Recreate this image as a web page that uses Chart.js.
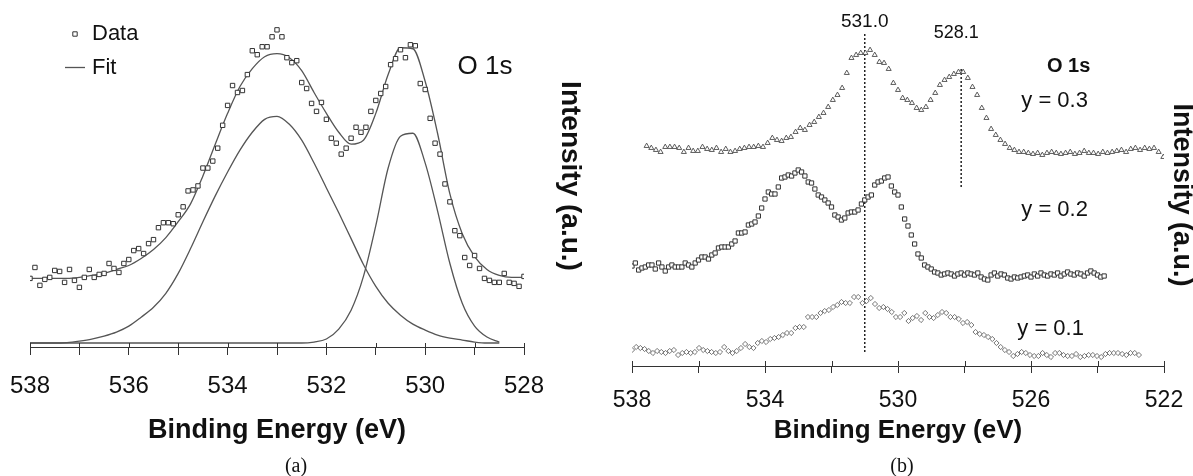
<!DOCTYPE html>
<html>
<head>
<meta charset="utf-8">
<title>O 1s XPS spectra</title>
<script src="https://cdn.jsdelivr.net/npm/chart.js@4.4.1/dist/chart.umd.min.js"></script>
<style>
  html, body { margin: 0; padding: 0; background: #fff; }
  body { position: relative; width: 1193px; height: 476px; overflow: hidden; }
  .panel { position: absolute; top: 0; height: 476px; }
  #pa { left: 0; width: 600px; }
  #pb { left: 600px; width: 600px; }
  .cap { position: absolute; top: 454px; line-height: 24px; font: 20px "Liberation Serif", "Times New Roman", serif;
         color: #111; transform: translateX(-50%); }
</style>
</head>
<body>
<div class="panel" id="pa"><canvas id="ca" width="600" height="476"></canvas></div>
<div class="panel" id="pb"><canvas id="cb" width="600" height="476"></canvas></div>
<div class="cap" style="left:296px">(a)</div>
<div class="cap" style="left:902px">(b)</div>
<script>
// ---------- (a) O 1s spectrum with two-component fit ----------
const dataStartA = 538.0;          // eV, first measured point
const dataStepA = 0.1;             // eV between points
const dataA = [
  65, 76, 58, 64, 66, 73, 72, 61, 74, 63,
  56, 66, 74, 66, 69, 70, 80, 75, 71, 80,
  84, 93, 95, 90, 100, 104, 116, 121, 121, 120,
  129, 137, 153, 154, 158, 176, 176, 183, 196, 219,
  239, 259, 252, 254, 270, 294, 290, 298, 298, 308,
  315, 308, 287, 282, 284, 262, 256, 241, 233, 242,
  225, 206, 201, 190, 196, 206, 217, 212, 217, 233,
  244, 251, 258, 280, 286, 295, 287, 300, 299, 261,
  255, 226, 201, 190, 160, 142, 113, 108, 86, 78,
  88, 75, 65, 63, 61, 61, 70, 61, 60, 57,
  67
];

const fitEnergy = [538, 537.75, 537.5, 537.25, 537, 536.75, 536.5, 536.25, 536, 535.75,
  535.5, 535.25, 535, 534.75, 534.5, 534.25, 534, 533.75, 533.5, 533.25,
  533, 532.75, 532.5, 532.25, 532, 531.75, 531.5, 531.25, 531, 530.75,
  530.5, 530.25, 530, 529.75, 529.5, 529.25, 529, 528.75, 528.5, 528.25, 528];
const fitTotal = [65, 65, 65, 65, 66, 68, 70, 74, 78, 85,
  94, 106, 122, 140, 168, 200, 231, 258, 276, 288,
  291, 287, 274, 252, 231, 212, 200, 204, 231, 270,
  297, 296, 263, 211, 150, 110, 87, 74, 68, 66, 66];

const compEnergy = [538, 537.75, 537.5, 537.25, 537, 536.75, 536.5, 536.25, 536, 535.75,
  535.5, 535.25, 535, 534.75, 534.5, 534.25, 534, 533.75, 533.5, 533.25,
  533, 532.75, 532.5, 532.25, 532, 531.75, 531.5, 531.25, 531, 530.75,
  530.5, 530.25, 530, 529.75, 529.5, 529.25, 529, 528.75, 528.5];
const compHigh = [0, 0, 0, 0.5, 2, 4, 7, 11, 17, 26,
  36, 50, 70, 95, 122, 148, 172, 194, 212, 225,
  228, 220, 204, 181, 156, 131, 105, 79, 57, 40,
  28, 19, 13, 8, 5, 3, 1, 0, 0];
const compLow = [0, 0, 0, 0, 0, 0, 0, 0, 0, 0,
  0, 0, 0, 0, 0, 0, 0, 0, 0, 0,
  0, 0, 0, 1, 4, 14, 33, 67, 118, 176,
  208, 211, 181, 133, 80, 40, 17, 6, 1];

const ticksA = [538, 536, 534, 532, 530, 528];

// ---------- (b) O 1s spectra for y = 0.3, 0.2, 0.1 ----------
const scanY3Start = 537.56, scanY3Step = 0.14;
const scanY3 = [
  220, 218, 216, 214, 219, 219, 219, 218, 214, 218,
  215, 215, 219, 217, 216, 218, 214, 217, 214, 215,
  217, 218, 219, 219, 220, 219, 223, 228, 226, 225,
  228, 229, 234, 238, 236, 241, 244, 249, 253, 259,
  266, 271, 278, 293, 308, 311, 313, 313, 316, 311,
  304, 303, 297, 283, 276, 268, 266, 263, 258, 256,
  259, 266, 273, 281, 286, 289, 292, 294, 294, 288,
  279, 271, 258, 248, 237, 231, 226, 222, 218, 216,
  214, 214, 213, 212, 213, 211, 213, 214, 213, 212,
  213, 214, 212, 213, 215, 213, 213, 212, 214, 213,
  214, 215, 216, 214, 217, 218, 216, 218, 217, 218,
  214, 209
];

const scanY2Start = 538.0, scanY2Step = 0.1;
const scanY2 = [
  100, 103, 96, 98, 99, 101, 101, 97, 103, 99,
  95, 99, 101, 99, 99, 99, 103, 101, 99, 103,
  106, 109, 109, 107, 111, 113, 118, 119, 119, 119,
  122, 125, 133, 133, 134, 141, 142, 144, 150, 158,
  167, 174, 172, 172, 179, 188,
  189, 191, 190, 193, 196, 194, 190, 184, 183, 177,
  171, 169, 166, 163, 159, 151, 149, 146, 148, 153,
  154, 154, 156, 162, 166, 169, 171, 181, 184, 185,
  188, 189, 180, 174, 171, 159, 147, 140, 131, 122,
  112, 108, 101, 99, 97, 94, 93, 91, 92, 93,
  92, 90, 92, 93, 91, 93, 92, 91, 93, 89,
  87, 86,
  91, 93, 90, 92, 91, 88, 87, 89, 88, 89,
  90, 91, 89, 92, 90, 93, 91, 90, 92, 91,
  93, 90, 92, 94, 92, 91, 93, 92, 90, 93,
  95, 93, 91, 89, 90
];

const scanY1Start = 538.0, scanY1Step = 0.126;
const scanY1 = [
  16, 19, 18, 17, 15, 13, 15, 14, 13, 15,
  16, 11, 13, 14, 13, 14, 18, 16, 15, 14,
  13, 14, 19, 15, 13, 15, 18, 22, 19, 18,
  23, 25, 24, 27, 28, 29, 31, 33, 33, 38,
  39, 39, 49, 49, 49, 53, 55, 56, 59, 61,
  64, 63, 63, 69, 69, 63, 65, 68, 62, 58,
  59, 57, 54, 49, 49, 53, 45, 48, 50, 46,
  53, 49, 48, 51, 54, 53, 49, 49, 47, 43,
  44, 41, 34, 32, 31, 29, 27, 23, 19, 16,
  14, 10, 12, 14, 13, 11, 10, 10, 13, 11,
  9, 13, 13, 11, 10, 10, 12, 9, 10, 11,
  11, 10, 9, 12, 13, 13, 13, 12, 11, 13,
  13, 11
];

// reference energies marked with dotted lines
const markEnergy = [531.0, 528.1];
const markFrom = [14, 179];
const markTo = [333, 298];

const SANS = '"Liberation Sans", Arial, Helvetica, sans-serif';
const INK = '#111';

function grid(start, step, values) {
  return values.map((v, i) => ({ x: +(start - i * step).toFixed(3), y: v }));
}
function pairs(xs, ys) {
  return xs.map((x, i) => ({ x: x, y: ys[i] }));
}
// fixed axis band; edge labels may overhang the plot area
function fixedBand(h) {
  return s => { s.height = h; s.paddingLeft = 0; s.paddingRight = 0; };
}

// tick marks that cross the axis line (short stub above the line)
const crossTicks = {
  id: 'crossTicks',
  afterDatasetsDraw(chart, args, opts) {
    const s = chart.scales.x, ctx = chart.ctx;
    ctx.save();
    ctx.strokeStyle = opts.color || '#333';
    ctx.lineWidth = 1;
    s.ticks.forEach((t, i) => {
      const px = Math.round(s.getPixelForTick(i)) + 0.5;
      ctx.beginPath();
      ctx.moveTo(px, s.top - (opts.above || 4));
      ctx.lineTo(px, s.top);
      ctx.stroke();
    });
    ctx.restore();
  }
};

// free text placed at data coordinates
const notes = {
  id: 'notes',
  afterDraw(chart, args, opts) {
    const { ctx, scales } = chart;
    (opts.items || []).forEach(n => {
      ctx.save();
      ctx.font = n.font;
      ctx.fillStyle = n.color || INK;
      ctx.textAlign = n.align || 'center';
      ctx.textBaseline = 'middle';
      ctx.fillText(n.text, scales.x.getPixelForValue(n.x), scales.y.getPixelForValue(n.y));
      ctx.restore();
    });
  }
};

// small key in the upper left corner of the plot area
const key = {
  id: 'key',
  afterDraw(chart, args, opts) {
    const { ctx, chartArea } = chart;
    (opts.rows || []).forEach(r => {
      const ds = chart.data.datasets[r.dataset];
      const cx = chartArea.left + r.dx, cy = chartArea.top + r.dy;
      ctx.save();
      ctx.strokeStyle = ds.borderColor;
      ctx.lineWidth = ds.borderWidth;
      if (ds.showLine === false) {
        ctx.fillStyle = ds.backgroundColor;
        Chart.helpers.drawPoint(ctx, { pointStyle: ds.pointStyle, radius: ds.pointRadius, borderWidth: ds.borderWidth, rotation: 0 }, cx, cy);
      } else {
        ctx.beginPath();
        ctx.moveTo(cx - 10, cy);
        ctx.lineTo(cx + 10, cy);
        ctx.stroke();
      }
      ctx.font = opts.font;
      ctx.fillStyle = INK;
      ctx.textAlign = 'left';
      ctx.textBaseline = 'middle';
      ctx.fillText(ds.label, chartArea.left + opts.textX, cy);
      ctx.restore();
    });
  }
};

// ---------- chart (a) ----------
new Chart(document.getElementById('ca'), {
  type: 'scatter',
  data: {
    datasets: [
      { label: 'Data', data: grid(dataStartA, dataStepA, dataA), showLine: false,
        pointStyle: 'rect', pointRadius: 3.1, borderWidth: 1, borderColor: '#333', backgroundColor: '#fff' },
      { label: 'Fit', data: pairs(fitEnergy, fitTotal), showLine: true, pointRadius: 0,
        borderColor: '#555', borderWidth: 1.3, cubicInterpolationMode: 'monotone' },
      { label: 'Component 531.0 eV', data: pairs(compEnergy, compHigh), showLine: true, pointRadius: 0,
        borderColor: '#555', borderWidth: 1.3, cubicInterpolationMode: 'monotone' },
      { label: 'Component 530.4 eV', data: pairs(compEnergy, compLow), showLine: true, pointRadius: 0,
        borderColor: '#555', borderWidth: 1.3, cubicInterpolationMode: 'monotone' }
    ]
  },
  options: {
    responsive: false,
    animation: false,
    events: [],
    layout: { padding: { left: 30, top: 3, right: 0, bottom: 0 } },
    plugins: {
      legend: { display: false },
      tooltip: { enabled: false },
      crossTicks: { above: 4, color: '#333' },
      key: { font: '22px ' + SANS, textX: 62,
             rows: [{ dataset: 0, dx: 45, dy: 29 }, { dataset: 1, dx: 45, dy: 62.5 }] },
      notes: { items: [ { text: 'O 1s', x: 528.79, y: 278, font: '26px ' + SANS } ] }
    },
    scales: {
      x: {
        type: 'linear', position: 'bottom', reverse: true, min: ticksA[ticksA.length - 1], max: ticksA[0],
        afterFit: fixedBand(129),
        ticks: { stepSize: 1, autoSkip: false, maxRotation: 0, padding: 17, color: INK,
                 font: { family: SANS, size: 24 },
                 callback: v => ticksA.includes(v) ? String(v) : '' },
        grid: { drawOnChartArea: false, drawTicks: true, tickLength: 8, color: '#333', lineWidth: 1 },
        border: { display: true, color: '#333', width: 1 },
        title: { display: true, text: 'Binding Energy (eV)', color: INK,
                 font: { family: SANS, size: 27, weight: 'bold' }, padding: { top: 0, bottom: 29 } }
      },
      y: {
        type: 'linear', position: 'right', min: -4, max: 340,
        afterFit(s) { s.width = 76; },
        ticks: { display: false }, grid: { display: false }, border: { display: false },
        title: { display: true, text: 'Intensity (a.u.)', color: INK,
                 font: { family: SANS, size: 28, weight: 'bold' }, padding: { top: 13, bottom: 0 } }
      }
    }
  },
  plugins: [crossTicks, key, notes]
});

// ---------- chart (b) ----------
const ticksB = [538, 534, 530, 526, 522];
const markSets = markEnergy.map((e, i) => ({
  label: 'marker ' + e.toFixed(1), data: [{ x: e, y: markFrom[i] }, { x: e, y: markTo[i] }],
  showLine: true, pointRadius: 0, borderColor: '#222', borderWidth: 1.5, borderDash: [2, 2]
}));

new Chart(document.getElementById('cb'), {
  type: 'scatter',
  data: {
    datasets: [
      { label: 'y = 0.3', data: grid(scanY3Start, scanY3Step, scanY3), showLine: false,
        pointStyle: 'triangle', pointRadius: 2.9, borderWidth: 0.9, borderColor: '#4a4a4a', backgroundColor: '#fff' },
      { label: 'y = 0.2', data: grid(scanY2Start, scanY2Step, scanY2), showLine: false,
        pointStyle: 'rect', pointRadius: 3.0, borderWidth: 1, borderColor: '#333', backgroundColor: '#fff' },
      { label: 'y = 0.1', data: grid(scanY1Start, scanY1Step, scanY1), showLine: false,
        pointStyle: 'rectRot', pointRadius: 2.6, borderWidth: 0.9, borderColor: '#666', backgroundColor: '#fff' },
      ...markSets
    ]
  },
  options: {
    responsive: false,
    animation: false,
    events: [],
    layout: { padding: { left: 32, top: 24, right: 0, bottom: 0 } },
    plugins: {
      legend: { display: false },
      tooltip: { enabled: false },
      crossTicks: { above: 5, color: '#333' },
      notes: { items: [
        { text: '531.0', x: 531.0, y: 344, font: '19px ' + SANS },
        { text: '528.1', x: 528.25, y: 333, font: '18px ' + SANS },
        { text: 'O 1s', x: 524.87, y: 300, font: 'bold 20px ' + SANS },
        { text: 'y = 0.3', x: 525.29, y: 265, font: '22px ' + SANS },
        { text: 'y = 0.2', x: 525.29, y: 156, font: '22px ' + SANS },
        { text: 'y = 0.1', x: 525.41, y: 37, font: '22px ' + SANS }
      ] }
    },
    scales: {
      x: {
        type: 'linear', position: 'bottom', reverse: true, min: ticksB[ticksB.length - 1], max: ticksB[0],
        afterFit: fixedBand(110),
        ticks: { stepSize: 2, autoSkip: false, maxRotation: 0, padding: 14, color: INK,
                 font: { family: SANS, size: 23 },
                 callback: v => ticksB.includes(v) ? String(v) : '' },
        grid: { drawOnChartArea: false, drawTicks: true, tickLength: 7, color: '#333', lineWidth: 1 },
        border: { display: true, color: '#333', width: 1 },
        title: { display: true, text: 'Binding Energy (eV)', color: INK,
                 font: { family: SANS, size: 26, weight: 'bold' }, padding: { top: 0, bottom: 30 } }
      },
      y: {
        type: 'linear', position: 'right', min: 0, max: 342,
        afterFit(s) { s.width = 36; },
        ticks: { display: false }, grid: { display: false }, border: { display: false },
        title: { display: true, text: 'Intensity (a.u.)', color: INK,
                 font: { family: SANS, size: 27, weight: 'bold' }, padding: { top: 2, bottom: 0 } }
      }
    }
  },
  plugins: [crossTicks, notes]
});
</script>
</body>
</html>
